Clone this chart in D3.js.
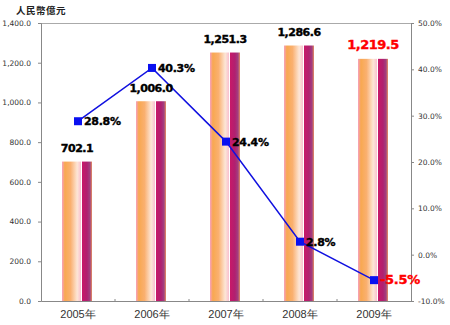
<!DOCTYPE html>
<html><head><meta charset="utf-8">
<script src="https://cdn.jsdelivr.net/npm/d3@7"></script>
<style>body{margin:0;background:#fff}svg{display:block}</style>
</head><body>
<svg id="c" width="450" height="325"></svg>
<script>
const categories = ["2005年","2006年","2007年","2008年","2009年"];
const amounts = [702.1, 1006.0, 1251.3, 1286.6, 1219.5];
const amountLabels = ["702.1","1,006.0","1,251.3","1,286.6","1,219.5"];
const growth = [28.8, 40.3, 24.4, 2.8, -5.5];
const growthLabels = ["28.8%","40.3%","24.4%","2.8%","-5.5%"];
const leftTicks = [0,200,400,600,800,1000,1200,1400];
const rightTicks = [-10,0,10,20,30,40,50];
const unitLabel = "人民幣億元";

const svg = d3.select("#c");
const L=41, R=411, T=23, B=301;
const x = d3.scaleBand().domain(categories).range([L,R]);
const yL = d3.scaleLinear().domain([0,1400]).range([B,T]);
const yR = d3.scaleLinear().domain([-10,50]).range([B,T]);

const defs = svg.append("defs");
const g1 = defs.append("linearGradient").attr("id","ga");
[[0,"#f7a0c0"],[0.15,"#f8a850"],[0.45,"#fab070"],[0.8,"#fde6d6"],[1,"#f9c0d0"]].forEach(s=>g1.append("stop").attr("offset",s[0]).attr("stop-color",s[1]));
const g2 = defs.append("linearGradient").attr("id","gb");
[[0,"#c81868"],[0.5,"#b02070"],[0.8,"#a04080"],[1,"#e89060"]].forEach(s=>g2.append("stop").attr("offset",s[0]).attr("stop-color",s[1]));

// frame
svg.append("line").attr("x1",L).attr("x2",R).attr("y1",T+0.5).attr("y2",T+0.5).attr("stroke","#aaa");
// bars
const bw = 30;
categories.forEach((c,i)=>{
  const cx = x(c)+x.bandwidth()/2 - 1;
  const y0 = yL(amounts[i]);
  svg.append("rect").attr("x",cx-bw/2).attr("y",y0).attr("width",19).attr("height",B-y0).attr("fill","url(#ga)");
  svg.append("rect").attr("x",cx-bw/2+20).attr("y",y0).attr("width",10).attr("height",B-y0).attr("fill","url(#gb)");
});

// axes
const fontTick = "DejaVu Sans, Verdana, sans-serif";
const axL = svg.append("g").attr("transform",`translate(${L},0)`)
  .call(d3.axisLeft(yL).tickValues(leftTicks).tickSize(3).tickFormat(d=>d3.format(",.1f")(d)));
const axR = svg.append("g").attr("transform",`translate(${R},0)`)
  .call(d3.axisRight(yR).tickValues(rightTicks).tickSize(3).tickFormat(d=>d.toFixed(1)+"%"));
[axL,axR].forEach(a=>{
  a.select(".domain").attr("stroke","#888");
  a.selectAll(".tick line").attr("stroke","#888");
  a.selectAll("text").attr("font-family",fontTick).attr("font-size","7.5px").attr("fill","#333");
});
axL.selectAll("text").attr("x",-10);
axR.selectAll("text").attr("x",7);
const axB = svg.append("g").attr("transform",`translate(0,${B})`)
  .call(d3.axisBottom(x).tickSize(0).tickPadding(9));
axB.select(".domain").attr("stroke","#888");
axB.selectAll("text").attr("font-family","Liberation Sans Narrow, Arial Narrow, Liberation Sans, sans-serif").attr("font-size","11px").attr("fill","#333");
// boundary ticks
x.domain().slice(1).forEach(c=>{
  svg.append("line").attr("x1",x(c)).attr("x2",x(c)).attr("y1",B-2).attr("y2",B).attr("stroke","#888");
});

// line
const pts = categories.map((c,i)=>[x(c)+x.bandwidth()/2, yR(growth[i])]);
svg.append("path").attr("d",d3.line()(pts)).attr("fill","none").attr("stroke","#1010e0").attr("stroke-width",1.5);
pts.forEach(p=>svg.append("rect").attr("x",p[0]-4).attr("y",p[1]-4).attr("width",8).attr("height",8).attr("fill","#0a10f0"));

// labels
const fontB = "DejaVu Sans, Verdana, sans-serif";
categories.forEach((c,i)=>{
  const last = i===categories.length-1;
  const col = last?"#ff0000":"#000";
  svg.append("text").attr("x",x(c)+x.bandwidth()/2-1).attr("y",yL(amounts[i])-9.5)
    .attr("text-anchor","middle").attr("font-family",fontB).attr("font-weight","bold")
    .attr("font-size", last?"13px":"11px").attr("letter-spacing","-0.5px")
    .attr("fill",col).attr("stroke",col).attr("stroke-width",0.4).text(amountLabels[i]);
  svg.append("text").attr("x",pts[i][0]+6).attr("y",pts[i][1]+4)
    .attr("font-family",fontB).attr("font-weight","bold")
    .attr("font-size", last?"13px":"11px").attr("letter-spacing","-0.3px")
    .attr("fill",col).attr("stroke",col).attr("stroke-width",0.4).text(growthLabels[i]);
});

svg.append("text").attr("x",16).attr("y",14).attr("font-family","Noto Sans CJK TC, sans-serif")
  .attr("font-size","9.5px").attr("font-weight","bold").attr("letter-spacing","0.5px").attr("fill","#222").text(unitLabel);
</script>
</body></html>
